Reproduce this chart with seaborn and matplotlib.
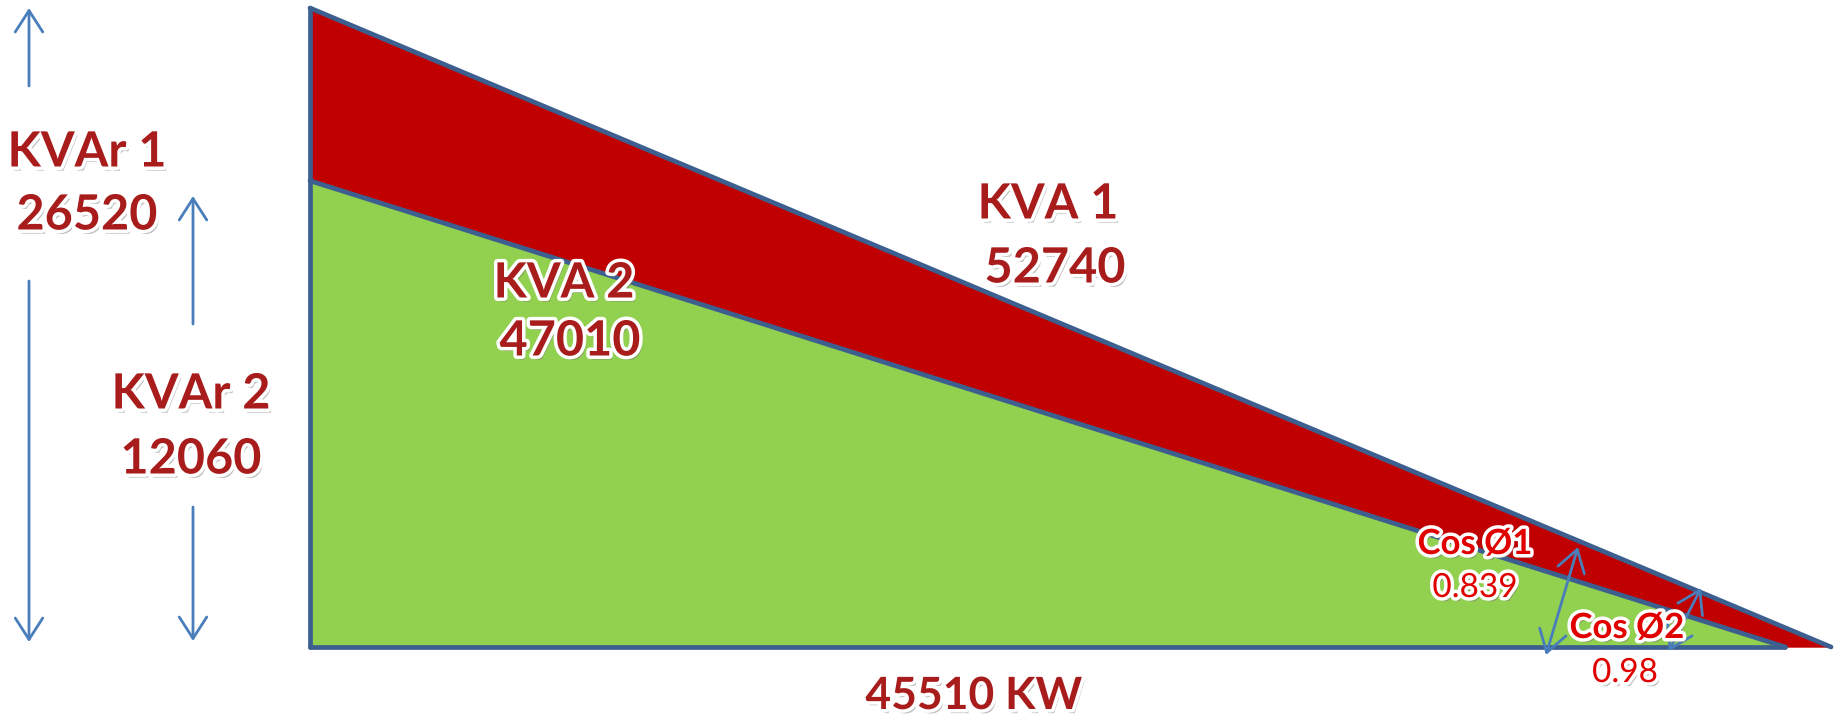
import numpy as np
import matplotlib.pyplot as plt
import matplotlib.patheffects as pe
import seaborn as sns

sns.set_theme(style="white")
plt.rcParams['font.family'] = ['Lato', 'DejaVu Sans']

# Data (power triangle before / after correction)
kw = 45510
kvar = [26520, 12060]
kva = [52740, 47010]
cos_phi = [0.839, 0.98]

W, H = 1835, 719
RED = "#C00000"
GREEN = "#92D050"
EDGE = "#3C5F8F"
ARROW = "#4A7EBB"
TXT = "#A81C1C"
TXT2 = "#E00000"

# sketch draws the corrected triangle slightly short of the apex
inner_frac = 0.97
# the sketch is not to scale vertically -> power scale on y
p = 0.4
fwd = lambda y: np.sign(y) * np.abs(y) ** p
inv = lambda v: np.sign(v) * np.abs(v) ** (1 / p)

fig = plt.figure(figsize=(W / 100, H / 100), dpi=100)
ax = fig.add_axes([0, 0, 1, 1])
ax.set_yscale('function', functions=(fwd, inv))

# x: 0 at px 310, kw at px 1831 ; y: 0 at px 647, kvar1 at px 8
sx = (1831 - 310) / kw
ax.set_xlim(-310 / sx, (W - 310) / sx)
F1 = fwd(kvar[0])
per = (647 - 8) / F1
ax.set_ylim(inv(-(H - 647) / per), inv(F1 + 8 / per))
ax.axis('off')

ax.fill([0, 0, kw], [0, kvar[0], 0], color=RED, zorder=1)
ax.fill([0, 0, kw * inner_frac], [0, kvar[1], 0], color=GREEN, zorder=2)

for xs, ys in [([0, kw], [kvar[0], 0]),
               ([0, kw * inner_frac], [kvar[1], 0]),
               ([0, 0], [kvar[0], 0]),
               ([0, kw * inner_frac], [0, 0])]:
    ax.plot(xs, ys, color=EDGE, lw=3.4, solid_capstyle='round', zorder=3)


def px(x, y):
    return (x / W, 1 - y / H)


fx = [pe.SimplePatchShadow(offset=(2, -3), shadow_rgbFace='#777777', alpha=0.45),
      pe.Stroke(linewidth=5, foreground='white'), pe.Normal()]


def label(x, y, s, size=35, color=TXT, weight='bold'):
    fig.text(*px(x, y), s, ha='center', va='center', fontsize=size,
             color=color, fontweight=weight, path_effects=fx, zorder=5)


label(87, 152, "KVAr 1")
label(87, 215, f"{kvar[0]}")
label(191, 394, "KVAr 2")
label(191, 459, f"{kvar[1]}")
label(564, 283, "KVA 2")
label(570, 341, f"{kva[1]}")
label(1048, 204, "KVA 1")
label(1055, 268, f"{kva[0]}")
label(974, 696, f"{kw} KW", size=32)
label(1475, 544, "Cos Ø1", size=25, color=TXT2)
label(1475, 588, f"{cos_phi[0]}", size=24, color=TXT2, weight='normal')
label(1627, 628, "Cos Ø2", size=25, color=TXT2)
label(1625, 673, f"{cos_phi[1]}", size=24, color=TXT2, weight='normal')


def arrow(x0, y0, x1, y1, style='->'):
    ax.annotate('', xy=px(x1, y1), xytext=px(x0, y0),
                xycoords='figure fraction', textcoords='figure fraction',
                arrowprops=dict(arrowstyle=f'{style},head_length=0.7,head_width=0.45',
                                color=ARROW, lw=2, shrinkA=0, shrinkB=0,
                                mutation_scale=22), zorder=6)


arrow(29, 86, 29, 8)
arrow(29, 281, 29, 642)
arrow(193, 324, 193, 196)
arrow(193, 507, 193, 641)
arrow(1546, 655, 1578, 547, '<->')
arrow(1669, 651, 1701, 588, '<->')

fig.savefig("out.png", dpi=100)
